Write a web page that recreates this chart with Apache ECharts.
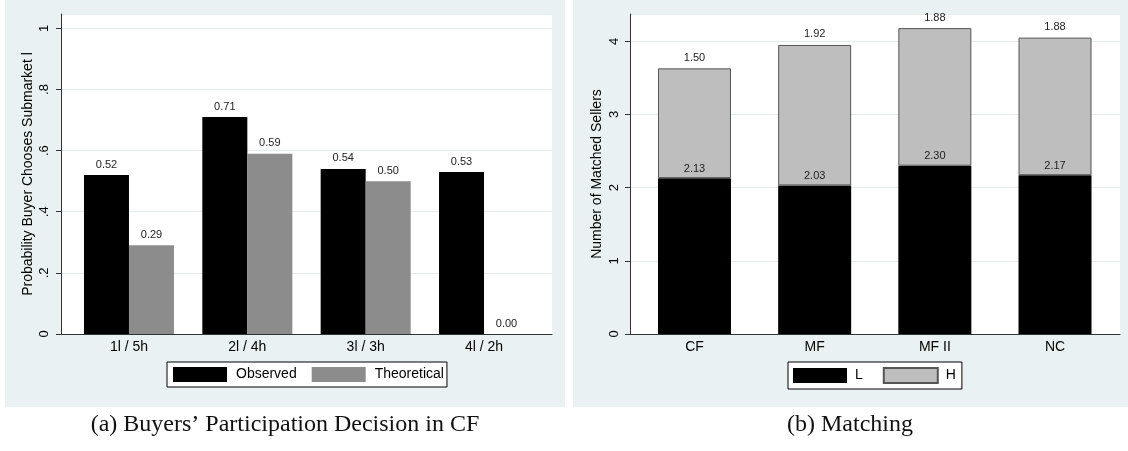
<!DOCTYPE html>
<html><head><meta charset="utf-8">
<script src="https://cdn.jsdelivr.net/npm/echarts@6/dist/echarts.min.js"></script>
<style>html,body{margin:0;padding:0;background:#fff}#c{width:1128px;height:451px}</style>
</head><body><div id="c"></div>
<script>
// Panel (a)
const catsA = ['1l / 5h', '2l / 4h', '3l / 3h', '4l / 2h'];
const observed = [0.52, 0.71, 0.54, 0.53];
const theoretical = [0.29, 0.59, 0.50, 0.00];
const ticksA = [0, 0.2, 0.4, 0.6, 0.8, 1];
const tickLabelsA = ['0', '.2', '.4', '.6', '.8', '1'];
// Panel (b)
const catsB = ['CF', 'MF', 'MF II', 'NC'];
const matchL = [2.13, 2.03, 2.30, 2.17];
const matchH = [1.50, 1.92, 1.88, 1.88];
const ticksB = [0, 1, 2, 3, 4];
const tickLabelsB = ['0', '1', '2', '3', '4'];

const FONT = 'Liberation Sans';
const BG = '#eaf1f3';
const GRIDLINE = '#e3ebee';
const AXIS = '#333';

function fmtFrom(ticks, labels) {
  return function (v) {
    const i = ticks.findIndex(t => Math.abs(t - v) < 1e-9);
    return i >= 0 ? labels[i] : '';
  };
}
const valLabel = (dist) => ({
  show: true, position: 'top', distance: dist, fontSize: 11, color: '#222', fontFamily: FONT,
  formatter: p => Number(p.value).toFixed(2)
});
const captionStyle = {fontFamily: 'Liberation Serif', fontSize: 24, fontWeight: 'normal', color: '#111'};

const chart = echarts.init(document.getElementById('c'), null, {renderer: 'canvas'});
const option = {
  animation: false,
  backgroundColor: '#fff',
  textStyle: {fontFamily: FONT},
  graphic: {elements: [
    {type: 'rect', z: -10, shape: {x: 5, y: 0, width: 560, height: 407}, style: {fill: BG}, silent: true},
    {type: 'rect', z: -10, shape: {x: 573, y: 0, width: 555, height: 407}, style: {fill: BG}, silent: true}
  ]},
  title: [
    {text: '(a) Buyers\u2019 Participation Decision in CF', left: 285, textAlign: 'center', top: 413, padding: 0,
     textStyle: captionStyle},
    {text: '(b) Matching', left: 850, textAlign: 'center', top: 413, padding: 0,
     textStyle: captionStyle}
  ],
  legend: [
    {data: ['Observed', 'Theoretical'], left: 167, top: 362, orient: 'horizontal', icon: 'rect',
     itemWidth: 54, itemHeight: 15, itemGap: 15, backgroundColor: '#fff', borderColor: '#000', borderWidth: 1,
     borderRadius: 0, padding: [5, 3, 5, 6], selectedMode: false,
     textStyle: {fontSize: 14, color: '#000', fontFamily: FONT, padding: [0, 0, 0, 4]}},
    {data: ['L', 'H'], left: 788, top: 362, orient: 'horizontal', icon: 'rect',
     itemWidth: 54, itemHeight: 15, itemGap: 20, backgroundColor: '#fff', borderColor: '#000', borderWidth: 1,
     borderRadius: 0, padding: [5, 6, 5, 5], selectedMode: false,
     textStyle: {fontSize: 14, color: '#000', fontFamily: FONT, padding: [0, 0, 0, 3]}}
  ],
  grid: [
    {left: 61, top: 14, width: 491, height: 320, show: true, backgroundColor: '#fff', borderWidth: 0},
    {left: 69.8, top: 14, width: 473.4, height: 320},
    {left: 630, top: 14, width: 490, height: 320, show: true, backgroundColor: '#fff', borderWidth: 0},
    {left: 634.4, top: 14, width: 480.7, height: 320}
  ],
  xAxis: [
    {gridIndex: 0, type: 'value', min: 0, max: 1, axisLine: {show: true, lineStyle: {color: AXIS, width: 1}},
     axisTick: {show: false}, axisLabel: {show: false}, splitLine: {show: false}},
    {gridIndex: 1, type: 'category', data: catsA, axisLine: {show: false}, axisTick: {show: false},
     axisLabel: {fontSize: 14, color: '#000', margin: 6, fontFamily: FONT}, splitLine: {show: false}},
    {gridIndex: 2, type: 'value', min: 0, max: 1, axisLine: {show: true, lineStyle: {color: AXIS, width: 1}},
     axisTick: {show: false}, axisLabel: {show: false}, splitLine: {show: false}},
    {gridIndex: 3, type: 'category', data: catsB, axisLine: {show: false}, axisTick: {show: false},
     axisLabel: {fontSize: 14, color: '#000', margin: 6, fontFamily: FONT}, splitLine: {show: false}}
  ],
  yAxis: [
    {gridIndex: 0, type: 'value', min: 0, max: 1.047, interval: 0.2, axisLine: {show: false},
     axisTick: {show: false}, axisLabel: {show: false},
     splitLine: {show: true, lineStyle: {color: GRIDLINE, width: 1}}},
    {gridIndex: 1, type: 'value', min: 0, max: 1.047, interval: 0.2, offset: 8.8,
     axisLine: {show: true, lineStyle: {color: AXIS, width: 1}},
     axisTick: {show: true, length: 5, lineStyle: {color: AXIS}, customValues: ticksA},
     axisLabel: {show: true, rotate: 90, margin: 10, fontSize: 13, color: '#000', fontFamily: FONT,
                 customValues: ticksA, formatter: fmtFrom(ticksA, tickLabelsA)},
     splitLine: {show: false},
     name: 'Probability Buyer Chooses Submarket l', nameLocation: 'middle', nameGap: 26,
     nameTextStyle: {fontSize: 14, color: '#000', fontFamily: FONT}},
    {gridIndex: 2, type: 'value', min: 0, max: 4.373, interval: 1, axisLine: {show: false},
     axisTick: {show: false}, axisLabel: {show: false},
     splitLine: {show: true, lineStyle: {color: GRIDLINE, width: 1}}},
    {gridIndex: 3, type: 'value', min: 0, max: 4.373, interval: 1, offset: 4.4,
     axisLine: {show: true, lineStyle: {color: AXIS, width: 1}},
     axisTick: {show: true, length: 5, lineStyle: {color: AXIS}, customValues: ticksB},
     axisLabel: {show: true, rotate: 90, margin: 9, fontSize: 13, color: '#000', fontFamily: FONT,
                 customValues: ticksB, formatter: fmtFrom(ticksB, tickLabelsB)},
     splitLine: {show: false},
     name: 'Number of Matched Sellers', nameLocation: 'middle', nameGap: 26,
     nameTextStyle: {fontSize: 14, color: '#000', fontFamily: FONT}}
  ],
  series: [
    {name: 'Observed', type: 'bar', xAxisIndex: 1, yAxisIndex: 1, data: observed, barWidth: 45, barGap: '0%',
     itemStyle: {color: '#000'}, label: valLabel(5)},
    {name: 'Theoretical', type: 'bar', xAxisIndex: 1, yAxisIndex: 1, data: theoretical, barWidth: 45, barGap: '0%',
     itemStyle: {color: '#8c8c8c'}, label: valLabel(5)},
    {name: 'L', type: 'bar', stack: 'm', xAxisIndex: 3, yAxisIndex: 3, data: matchL, barWidth: 73,
     itemStyle: {color: '#000'}, label: valLabel(4)},
    {name: 'H', type: 'bar', stack: 'm', xAxisIndex: 3, yAxisIndex: 3, data: matchH, barWidth: 73,
     itemStyle: {color: '#bebebe', borderColor: '#555', borderWidth: 1}, label: valLabel(5)}
  ]
};
chart.setOption(option);
</script>
</body></html>
